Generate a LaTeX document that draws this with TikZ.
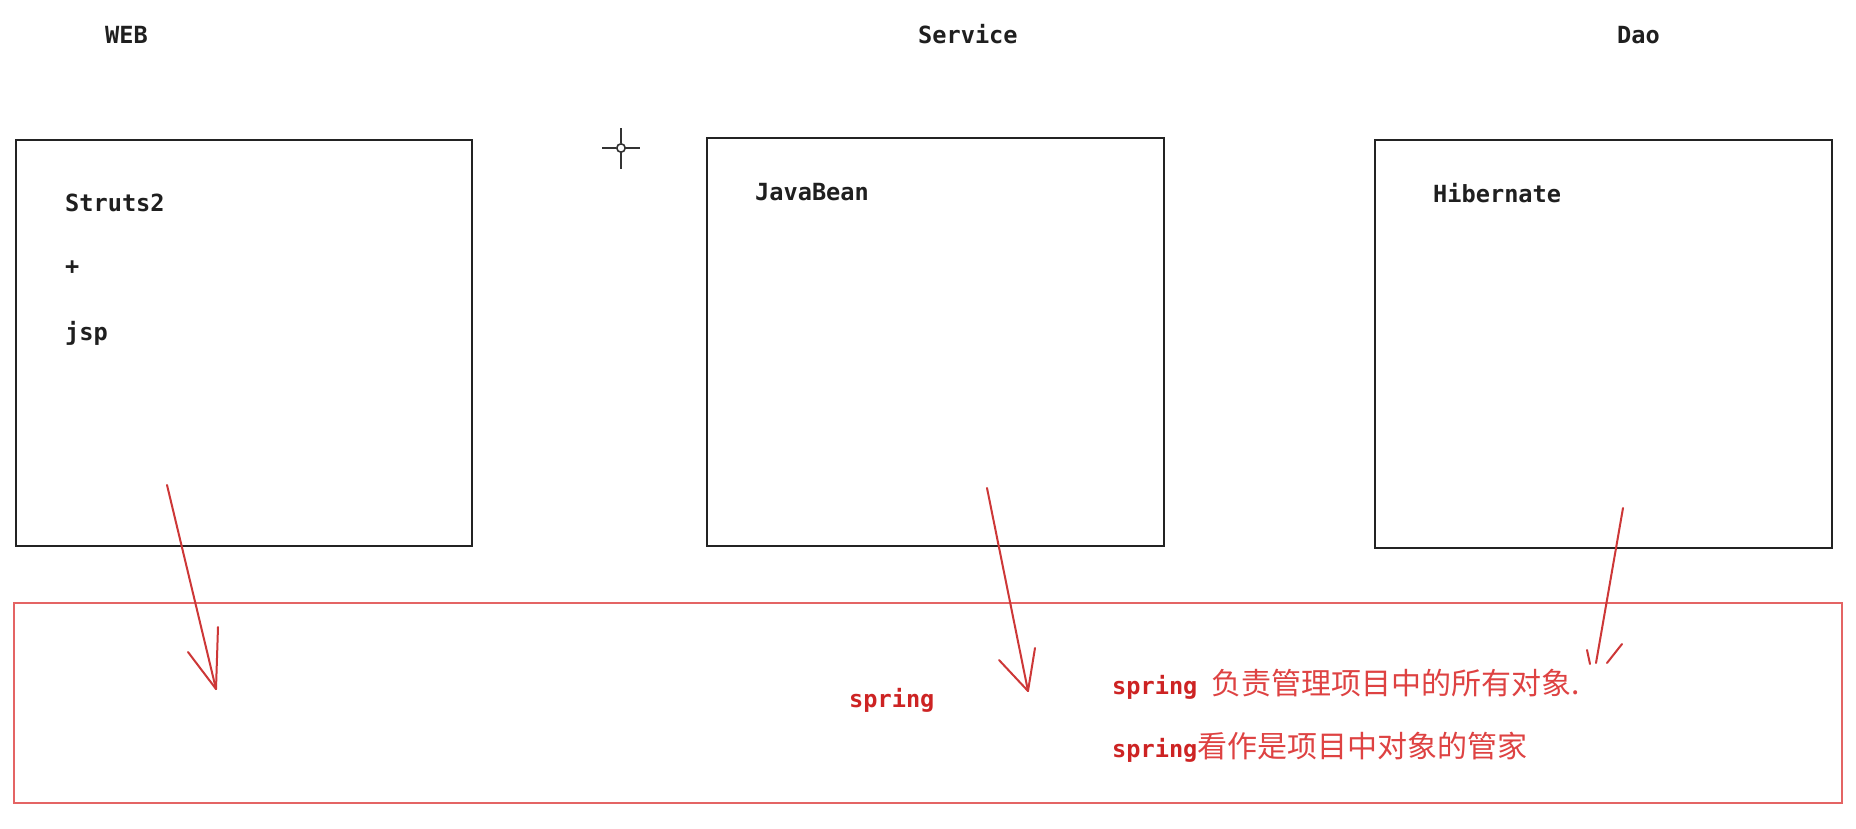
\documentclass[tikz,border=0pt]{standalone}
\usepackage{fontspec}
\setmonofont{DejaVu Sans Mono}
\newfontfamily\cjk{Noto Sans CJK SC}
\definecolor{boxgray}{RGB}{35,35,35}
\definecolor{boxred}{RGB}{228,100,100}
\definecolor{arrowred}{RGB}{205,55,55}
\definecolor{txtred}{RGB}{205,35,35}
\definecolor{cjkred}{RGB}{222,66,66}
\tikzset{
  lbl/.style={inner sep=0pt, anchor=base west, font=\fontsize{23.6pt}{28pt}\selectfont\ttfamily\bfseries, text=black!88},
  redlbl/.style={lbl, text=txtred},
  cjktext/.style={font=\cjk\fontsize{30pt}{34pt}\selectfont},
  layerbox/.style={draw=boxgray, line width=2.2pt},
  springbox/.style={draw=boxred, line width=2.2pt},
  handline/.style={draw=arrowred, line width=2pt, line cap=round},
  cross/.style={draw=black!80, line width=2.2pt}
}
\newcommand{\cjkred}[1]{{\cjk\fontsize{30pt}{34pt}\selectfont\mdseries\color{cjkred}#1}}
\begin{document}
\begin{tikzpicture}[x=1pt,y=-1pt]
\useasboundingbox[fill=white] (0,0) rectangle (1856,828);
% titles
\node[lbl] (web) at (105,43) {WEB};
\node[lbl] (service) at (918,43) {Service};
\node[lbl] (dao) at (1617,43) {Dao};
% layer boxes
\draw[layerbox] (16,140) rectangle (472,546);
\draw[layerbox] (707,138) rectangle (1164,546);
\draw[layerbox] (1375,140) rectangle (1832,548);
% spring box
\draw[springbox] (14,603) rectangle (1842,803);
% box texts
\node[lbl] (struts) at (65,211) {Struts2};
\node[lbl] (plus) at (65,274) {+};
\node[lbl] (jsp) at (65,340) {jsp};
\node[lbl] (javabean) at (755,200) {JavaBean};
\node[lbl] (hibernate) at (1433,202) {Hibernate};
% spring texts
\node[redlbl] (spring) at (849,707) {spring};
\node[redlbl] (line1) at (1112,694) {spring\ \cjkred{负责管理项目中的所有对象.}};
\node[redlbl] (line2) at (1112,757) {spring\cjkred{看作是项目中对象的管家}};
% cursor crosshair
\coordinate (cc) at (621,148);
\draw[cross] (602,148) -- (616,148) (626,148) -- (640,148);
\draw[cross] (621,128) -- (621,143) (621,153) -- (621,169);
\draw[draw=black!80, line width=1.6pt] (cc) circle (4.2);
% hand-drawn arrows
\coordinate (a1s) at (167,485); \coordinate (a1t) at (216,689);
\coordinate (a1l) at (188,652); \coordinate (a1r) at (218,627);
\draw[handline] (a1s) -- (a1t);
\draw[handline] (a1l) -- (a1t);
\draw[handline] (a1r) -- (a1t);
\coordinate (a2s) at (987,488); \coordinate (a2t) at (1028,691);
\coordinate (a2l) at (999,660); \coordinate (a2r) at (1035,648);
\draw[handline] (a2s) -- (a2t);
\draw[handline] (a2l) -- (a2t);
\draw[handline] (a2r) -- (a2t);
\coordinate (a3s) at (1623,508); \coordinate (a3t) at (1596,663);
\coordinate (a3l) at (1587,650); \coordinate (a3m) at (1590,664);
\coordinate (a3r) at (1622,644); \coordinate (a3n) at (1607,663);
\draw[handline] (a3s) -- (a3t);
\draw[handline] (a3l) -- (a3m);
\draw[handline] (a3r) -- (a3n);
\end{tikzpicture}
\end{document}
